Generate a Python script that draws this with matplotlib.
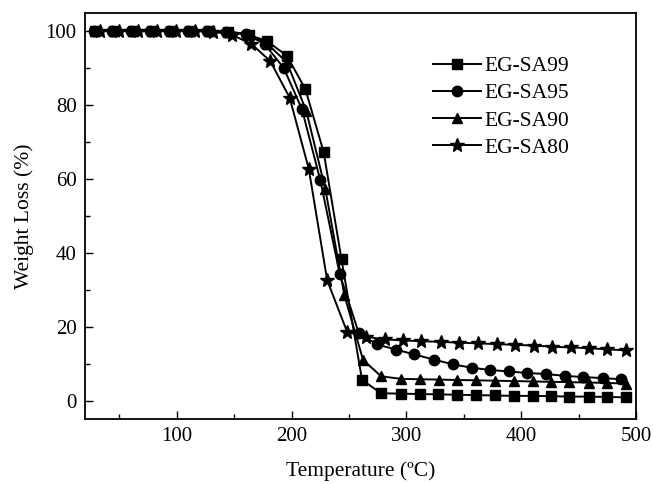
from matplotlib import pyplot as plt
from matplotlib.ticker import MultipleLocator

plt.rcParams['font.family'] = ['Liberation Serif', 'DejaVu Serif']

# (temperature in deg C, weight in %)
t_sa99 = [29, 45.5, 62, 78.5, 95, 111.5, 128, 144.5, 162.5, 178.5, 196, 212, 228, 243.5, 261.4,
          278, 295, 311.5, 327.7, 344.3, 361, 377, 394, 410, 426, 442, 459, 475, 491]
w_sa99 = [100, 100, 100, 100, 100, 100, 100, 99.8, 99.0, 97.3, 93.3, 84.3, 67.2, 38.2, 5.6,
          2.0, 1.9, 1.8, 1.7, 1.6, 1.5, 1.4, 1.3, 1.3, 1.2, 1.1, 1.1, 1.0, 0.9]

t_sa95 = [28, 44, 60, 77, 93, 110, 126, 143, 160, 176.5, 193, 209, 225, 242, 258.5,
          274.5, 291.3, 307, 324, 341, 357, 373, 389, 405, 422, 438, 454, 471, 487]
w_sa95 = [100, 100, 100, 100, 100, 100, 100, 99.8, 99.3, 96.5, 90.1, 78.9, 59.7, 34.2, 18.3,
          15.2, 13.8, 12.5, 11.1, 9.8, 8.9, 8.3, 7.9, 7.5, 7.2, 6.7, 6.4, 6.1, 5.8]

t_sa90 = [29, 45.5, 62, 78.5, 95, 111.5, 128, 145, 162, 179, 196, 212.8, 229.4, 246, 262.3,
          278, 295, 311.5, 328, 344, 361, 377, 394, 410, 426, 442, 459, 475, 491]
w_sa90 = [100, 100, 100, 100, 100, 100, 100, 99.8, 99.2, 96.5, 91.5, 78.4, 57.3, 28.5, 11.0,
          6.6, 5.9, 5.8, 5.7, 5.6, 5.5, 5.4, 5.3, 5.2, 5.1, 5.0, 4.9, 4.8, 4.6]

t_sa80 = [33, 49.5, 66, 82.5, 99, 115.5, 132, 148, 165, 181.4, 198.3, 215, 231, 248.4, 264.4,
          281, 297, 313, 330, 346, 362, 379, 395, 411, 427, 443, 459, 475, 491]
w_sa80 = [100, 100, 100, 100, 100, 100, 99.8, 99.0, 96.5, 91.9, 82.0, 62.7, 32.6, 18.6, 17.3,
          16.6, 16.3, 16.1, 15.9, 15.7, 15.5, 15.3, 15.1, 14.9, 14.6, 14.4, 14.2, 13.9, 13.6]

series = [
    ("EG-SA99", t_sa99, w_sa99, "s", 6.5),
    ("EG-SA95", t_sa95, w_sa95, "o", 7.5),
    ("EG-SA90", t_sa90, w_sa90, "^", 7.5),
    ("EG-SA80", t_sa80, w_sa80, "*", 10),
]

fig = plt.figure(figsize=(6.53, 4.84), dpi=100)
ax = fig.add_axes([0.130, 0.134, 0.844, 0.840])

for name, t, w, mk, ms in series:
    ax.plot(t, w, color="black", lw=1.4, marker=mk, markersize=ms, label=name)

ax.set_xlim(20, 500)
ax.set_ylim(-5, 105)
ax.xaxis.set_major_locator(MultipleLocator(100))
ax.xaxis.set_minor_locator(MultipleLocator(50))
ax.yaxis.set_major_locator(MultipleLocator(20))
ax.yaxis.set_minor_locator(MultipleLocator(10))
ax.tick_params(which="both", direction="in", top=False, right=False, width=1.0, labelsize=15, pad=6)
ax.tick_params(which="major", length=6)
ax.tick_params(which="minor", length=3.5)
for sp in ax.spines.values():
    sp.set_linewidth(1.3)

ax.set_xlabel("Temperature (ºC)", fontsize=15.5, labelpad=11)
ax.set_ylabel("Weight Loss (%)", fontsize=15.5, labelpad=8)

ax.legend(loc="upper left", bbox_to_anchor=(0.632, 0.893), frameon=False, fontsize=15.5,
          handlelength=2.2, handletextpad=0.2, labelspacing=0.33, borderpad=0, borderaxespad=0)

plt.savefig("out.png", dpi=100)
